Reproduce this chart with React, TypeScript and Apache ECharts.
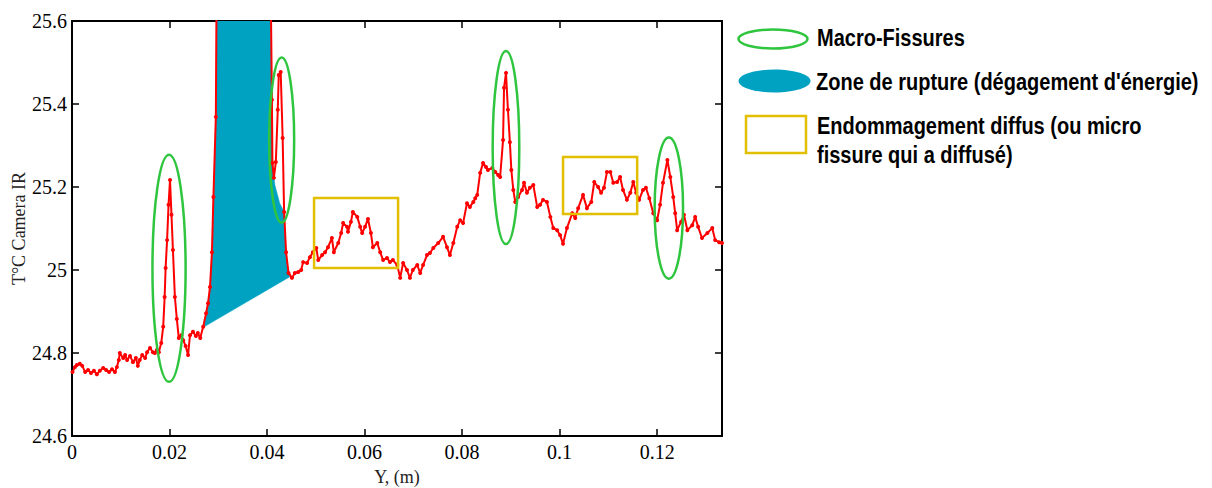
import React, { useEffect, useRef } from 'react';
import * as echarts from 'echarts';

// ---- Data ----
const xValues = [
  0.0001, 0.0006, 0.0010, 0.0016, 0.0021, 0.0027, 0.0033, 0.0039, 0.0045, 0.0051,
  0.0057, 0.0064, 0.0070, 0.0076, 0.0082, 0.0088, 0.0092, 0.0096, 0.0098, 0.0105,
  0.0109, 0.0113, 0.0119, 0.0125, 0.0131, 0.0135, 0.0139, 0.0144, 0.0150, 0.0154,
  0.0160, 0.0166, 0.0170, 0.0174, 0.0178, 0.0183, 0.0187, 0.0190, 0.0192, 0.0195,
  0.0198, 0.0201, 0.0204, 0.0207, 0.0211, 0.0215, 0.0219, 0.0224, 0.0228, 0.0233,
  0.0238, 0.0242, 0.0248, 0.0254, 0.0258, 0.0263, 0.0269, 0.0275, 0.0279, 0.0283,
  0.0287, 0.0290, 0.0295, 0.0298, 0.0351, 0.0405, 0.0410, 0.0411, 0.0414, 0.0418,
  0.0422, 0.0424, 0.0428, 0.0432, 0.0435, 0.0439, 0.0444, 0.0451, 0.0457, 0.0464,
  0.0470, 0.0474, 0.0482, 0.0488, 0.0494, 0.0501, 0.0505, 0.0513, 0.0519, 0.0525,
  0.0533, 0.0537, 0.0546, 0.0552, 0.0556, 0.0564, 0.0566, 0.0572, 0.0576, 0.0585,
  0.0591, 0.0595, 0.0601, 0.0607, 0.0613, 0.0617, 0.0626, 0.0632, 0.0638, 0.0646,
  0.0652, 0.0658, 0.0667, 0.0673, 0.0679, 0.0687, 0.0693, 0.0699, 0.0708, 0.0714,
  0.0720, 0.0728, 0.0734, 0.0741, 0.0751, 0.0761, 0.0769, 0.0775, 0.0782, 0.0790,
  0.0796, 0.0802, 0.0810, 0.0816, 0.0823, 0.0827, 0.0831, 0.0837, 0.0843, 0.0849,
  0.0853, 0.0862, 0.0868, 0.0874, 0.0878, 0.0884, 0.0886, 0.0890, 0.0894, 0.0898,
  0.0901, 0.0905, 0.0909, 0.0915, 0.0923, 0.0927, 0.0933, 0.0939, 0.0946, 0.0954,
  0.0960, 0.0966, 0.0974, 0.0981, 0.0987, 0.0995, 0.1001, 0.1007, 0.1015, 0.1026,
  0.1032, 0.1038, 0.1048, 0.1056, 0.1065, 0.1071, 0.1079, 0.1085, 0.1091, 0.1097,
  0.1104, 0.1110, 0.1118, 0.1124, 0.1130, 0.1138, 0.1145, 0.1151, 0.1157, 0.1163,
  0.1171, 0.1177, 0.1184, 0.1192, 0.1200, 0.1206, 0.1212, 0.1221, 0.1227, 0.1233,
  0.1237, 0.1241, 0.1249, 0.1255, 0.1262, 0.1272, 0.1278, 0.1284, 0.1292, 0.1303,
  0.1313, 0.1319, 0.1327, 0.1333,
];

const tempValues = [
  24.754, 24.766, 24.771, 24.774, 24.769, 24.754, 24.759, 24.752, 24.757, 24.749,
  24.757, 24.764, 24.759, 24.754, 24.761, 24.754, 24.766, 24.783, 24.800, 24.788,
  24.795, 24.783, 24.793, 24.778, 24.788, 24.769, 24.783, 24.795, 24.788, 24.802,
  24.812, 24.802, 24.800, 24.807, 24.802, 24.824, 24.863, 24.935, 25.005, 25.072,
  25.157, 25.217, 25.133, 25.048, 24.935, 24.882, 24.836, 24.843, 24.831, 24.817,
  24.795, 24.843, 24.851, 24.841, 24.848, 24.836, 24.863, 24.896, 24.920, 24.959,
  25.043, 25.176, 25.369, 25.950, 26.000, 25.950, 25.410, 25.258, 25.222, 25.260,
  25.386, 25.470, 25.477, 25.318, 25.140, 25.043, 24.993, 24.981, 24.993, 24.995,
  25.000, 25.019, 25.017, 25.031, 25.043, 25.053, 25.024, 25.036, 25.043, 25.055,
  25.077, 25.043, 25.065, 25.089, 25.113, 25.104, 25.092, 25.116, 25.140, 25.128,
  25.104, 25.089, 25.104, 25.123, 25.089, 25.055, 25.065, 25.043, 25.024, 25.029,
  25.019, 25.024, 25.012, 24.981, 25.017, 25.000, 24.981, 25.000, 25.012, 24.993,
  25.012, 25.036, 25.041, 25.053, 25.065, 25.080, 25.055, 25.036, 25.065, 25.104,
  25.120, 25.113, 25.161, 25.152, 25.164, 25.173, 25.181, 25.234, 25.258, 25.248,
  25.241, 25.246, 25.236, 25.229, 25.224, 25.313, 25.439, 25.475, 25.386, 25.308,
  25.241, 25.193, 25.164, 25.176, 25.193, 25.210, 25.186, 25.198, 25.205, 25.152,
  25.157, 25.169, 25.164, 25.128, 25.101, 25.096, 25.084, 25.063, 25.101, 25.137,
  25.125, 25.149, 25.181, 25.149, 25.164, 25.212, 25.200, 25.186, 25.198, 25.236,
  25.236, 25.210, 25.212, 25.224, 25.193, 25.169, 25.186, 25.212, 25.186, 25.169,
  25.193, 25.198, 25.173, 25.137, 25.120, 25.157, 25.210, 25.265, 25.224, 25.176,
  25.137, 25.096, 25.116, 25.133, 25.096, 25.108, 25.128, 25.104, 25.077, 25.089,
  25.101, 25.072, 25.067, 25.065,
];

// Rupture zone (energy release) outline, in data units
const ruptureZoneX = [
  0.0271, 0.0275, 0.0279, 0.0283, 0.0287, 0.0290, 0.0295, 0.0296, 0.0407, 0.0410,
  0.0411, 0.0416, 0.0426, 0.0435, 0.0439, 0.0444, 0.0447,
];
const ruptureZoneY = [
  24.863, 24.896, 24.920, 24.959, 25.043, 25.176, 25.369, 25.6, 25.6, 25.410,
  25.258, 25.205, 25.161, 25.140, 25.043, 24.993, 24.984,
];

// Macro-fissures: [centre x, centre y, half width (m), half height (°C)]
const macroFissures = [
  [0.0199, 25.004, 0.0034, 0.2735],
  [0.0430, 25.313, 0.00256, 0.1988],
  [0.0890, 25.295, 0.00273, 0.2325],
  [0.1224, 25.149, 0.00291, 0.170],
];

// Diffuse damage zones: [x0, y0, x1, y1]
const diffuseZones = [
  [0.04964, 25.005, 0.06687, 25.1735],
  [0.1007, 25.135, 0.1159, 25.2723],
];

const xTickLabels = ['0', '0.02', '0.04', '0.06', '0.08', '0.1', '0.12'];
const yTickLabels = ['24.6', '24.8', '25', '25.2', '25.4', '25.6'];

const legendLabels = [
  'Macro-Fissures',
  "Zone de rupture (dégagement d'énergie)",
  'Endommagement diffus (ou micro',
  'fissure qui a diffusé)',
];

const RED = '#ff0000';
const GREEN = '#2fc53f';
const BLUE = '#00a2c2';
const YELLOW = '#e2bf00';
const SERIF = '"Liberation Serif", "Times New Roman", serif';
const SANS = '"Liberation Sans", Arial, sans-serif';

export default function App() {
  const ref = useRef<HTMLDivElement>(null);

  useEffect(() => {
    document.body.style.margin = '0';
    if (!ref.current) return;
    const chart = echarts.init(ref.current, undefined, { renderer: 'svg' });

    const xFmt = (v: number) => {
      const i = Math.round(v / 0.02);
      return Math.abs(v - i * 0.02) < 1e-6 ? xTickLabels[i] ?? '' : '';
    };
    const yFmt = (v: number) => {
      const i = Math.round((v - 24.6) / 0.2);
      return Math.abs(v - (24.6 + i * 0.2)) < 1e-6 ? yTickLabels[i] ?? '' : '';
    };

    const axisLine = { show: true, onZero: false, lineStyle: { color: '#000', width: 2 } };
    const axisTick = { show: true, inside: true, length: 7, lineStyle: { color: '#000', width: 1.5 } };

    const legendTextStyle = (text: string) => ({
      text,
      fontFamily: SANS,
      fontWeight: 'bold',
      fontSize: 20,
      fill: '#000',
      verticalAlign: 'middle',
      textVerticalAlign: 'middle',
    });

    const option: any = {
      animation: false,
      backgroundColor: '#fff',
      grid: { left: 72, top: 21, right: 490, bottom: 52, containLabel: false, outerBoundsMode: 'none' },
      xAxis: [
        {
          type: 'value', position: 'bottom', min: 0, max: 0.1333, interval: 0.02,
          axisLine, axisTick,
          axisLabel: { color: '#000', fontFamily: SERIF, fontSize: 20, margin: 6, formatter: xFmt },
          splitLine: { show: false },
          name: 'Y, (m)', nameLocation: 'middle', nameGap: 32, nameMoveOverlap: false,
          nameTextStyle: { color: '#222', fontFamily: SERIF, fontSize: 18 },
        },
        {
          type: 'value', position: 'top', min: 0, max: 0.1333, interval: 0.02,
          axisLine, axisTick, axisLabel: { show: false }, splitLine: { show: false },
        },
      ],
      yAxis: [
        {
          type: 'value', position: 'left', min: 24.6, max: 25.6, interval: 0.2,
          axisLine, axisTick,
          axisLabel: { color: '#000', fontFamily: SERIF, fontSize: 20, margin: 5, formatter: yFmt },
          splitLine: { show: false },
          name: 'T°C Camera IR', nameLocation: 'middle', nameGap: 44, nameMoveOverlap: false,
          nameTextStyle: { color: '#222', fontFamily: SERIF, fontSize: 18 },
        },
        {
          type: 'value', position: 'right', min: 24.6, max: 25.6, interval: 0.2,
          axisLine, axisTick, axisLabel: { show: false }, splitLine: { show: false },
        },
      ],
      series: [
        {
          type: 'custom',
          name: 'Zone de rupture',
          clip: true,
          z: 1,
          data: [[ruptureZoneX[0], ruptureZoneY[0]]],
          renderItem: (_p: any, api: any) => {
            const pts = ruptureZoneX.map((x, i) => api.coord([x, ruptureZoneY[i]]));
            return { type: 'polygon', shape: { points: pts }, style: { fill: BLUE, stroke: BLUE, lineWidth: 0.5 } };
          },
        },
        {
          type: 'line',
          name: 'T°C Camera IR',
          z: 3,
          data: xValues.map((x, i) => [x, tempValues[i]]),
          symbol: 'circle',
          symbolSize: 4,
          showSymbol: true,
          showAllSymbol: true,
          lineStyle: { color: RED, width: 2 },
          itemStyle: { color: RED },
          clip: true,
        },
        {
          type: 'custom',
          name: 'Macro-Fissures',
          z: 4,
          data: macroFissures,
          renderItem: (_p: any, api: any) => {
            const c = api.coord([api.value(0), api.value(1)]);
            const s = api.size([api.value(2), api.value(3)]);
            return {
              type: 'ellipse',
              shape: { cx: c[0], cy: c[1], rx: s[0], ry: s[1] },
              style: { fill: 'none', stroke: GREEN, lineWidth: 2.5 },
            };
          },
        },
        {
          type: 'custom',
          name: 'Endommagement diffus',
          z: 4,
          data: diffuseZones,
          renderItem: (_p: any, api: any) => {
            const a = api.coord([api.value(0), api.value(1)]);
            const b = api.coord([api.value(2), api.value(3)]);
            return {
              type: 'rect',
              shape: { x: Math.min(a[0], b[0]), y: Math.min(a[1], b[1]), width: Math.abs(b[0] - a[0]), height: Math.abs(b[1] - a[1]) },
              style: { fill: 'none', stroke: YELLOW, lineWidth: 2.5 },
            };
          },
        },
      ],
      graphic: {
        elements: [
          { type: 'ellipse', shape: { cx: 773, cy: 39, rx: 34.5, ry: 9.5 }, style: { fill: 'none', stroke: GREEN, lineWidth: 2.5 } },
          { type: 'text', x: 817, y: 37.5, scaleY: 1.15, style: legendTextStyle(legendLabels[0]) },
          { type: 'ellipse', shape: { cx: 774.5, cy: 81, rx: 36, ry: 11.5 }, style: { fill: BLUE } },
          { type: 'text', x: 816, y: 81.5, scaleY: 1.15, style: legendTextStyle(legendLabels[1]) },
          { type: 'rect', shape: { x: 746, y: 116, width: 60, height: 37 }, style: { fill: 'none', stroke: YELLOW, lineWidth: 2.5 } },
          { type: 'text', x: 817, y: 125.5, scaleY: 1.15, style: legendTextStyle(legendLabels[2]) },
          { type: 'text', x: 817, y: 155, scaleY: 1.15, style: legendTextStyle(legendLabels[3]) },
        ],
      },
    };

    chart.setOption(option);
    return () => chart.dispose();
  }, []);

  return <div ref={ref} style={{ width: 1212, height: 488 }} />;
}
